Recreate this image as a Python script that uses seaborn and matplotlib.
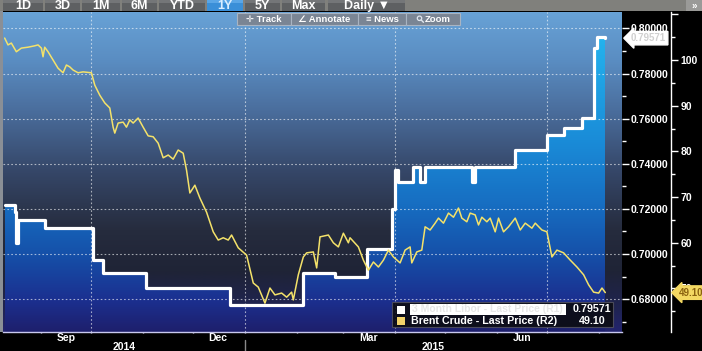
import numpy as np
import pandas as pd
import matplotlib
matplotlib.use("Agg")
import matplotlib.pyplot as plt
import matplotlib.dates as mdates
import matplotlib.transforms as mtransforms
from matplotlib.colors import LinearSegmentedColormap
from matplotlib.patches import Rectangle, Circle
from matplotlib.ticker import FormatStrFormatter, NullFormatter, FixedLocator
import seaborn as sns

# ---------------- data ----------------
white_name = "3 Month Libor - Last Price (R1)"
white_dates = ["2014-08-10", "2014-08-16", "2014-08-17", "2014-08-18", "2014-09-03",
               "2014-10-02", "2014-10-08", "2014-11-03", "2014-12-23", "2015-02-05",
               "2015-02-24", "2015-03-15", "2015-03-30", "2015-04-01", "2015-04-03",
               "2015-04-12", "2015-04-16", "2015-04-19", "2015-05-17", "2015-05-19",
               "2015-06-12", "2015-07-01", "2015-07-11", "2015-07-22", "2015-07-29",
               "2015-07-31", "2015-08-05"]
white_values = [0.7217, 0.7186, 0.7048, 0.7150, 0.7115,
                0.6973, 0.6915, 0.6849, 0.6773, 0.6915,
                0.6898, 0.7022, 0.7200, 0.7372, 0.7319,
                0.7386, 0.7319, 0.7386, 0.7319, 0.7386,
                0.7461, 0.7528, 0.7559, 0.7603, 0.7913,
                0.7962, 0.79571]

brent_name = "Brent Crude - Last Price (R2)"
brent_dates = [
    "2014-08-10", "2014-08-12", "2014-08-14", "2014-08-17", "2014-08-20", "2014-08-24", "2014-08-28", "2014-08-30",
    "2014-09-01", "2014-09-02", "2014-09-03", "2014-09-05", "2014-09-08", "2014-09-11", "2014-09-14", "2014-09-16",
    "2014-09-18", "2014-09-20", "2014-09-23", "2014-09-26",
    "2014-10-01", "2014-10-03", "2014-10-06", "2014-10-09", "2014-10-12", "2014-10-14", "2014-10-15", "2014-10-17",
    "2014-10-20", "2014-10-22", "2014-10-24", "2014-10-26", "2014-10-29",
    "2014-11-01", "2014-11-04", "2014-11-07", "2014-11-10", "2014-11-13", "2014-11-16", "2014-11-19", "2014-11-22",
    "2014-11-25", "2014-11-27", "2014-11-29",
    "2014-12-02", "2014-12-05", "2014-12-09", "2014-12-13", "2014-12-16", "2014-12-19", "2014-12-22", "2014-12-24",
    "2014-12-28",
    "2015-01-02", "2015-01-06", "2015-01-09", "2015-01-13", "2015-01-16", "2015-01-19", "2015-01-23", "2015-01-26",
    "2015-01-29", "2015-01-30",
    "2015-02-02", "2015-02-05", "2015-02-07", "2015-02-11", "2015-02-13", "2015-02-15", "2015-02-20", "2015-02-23",
    "2015-02-26",
    "2015-03-01", "2015-03-04", "2015-03-05", "2015-03-10", "2015-03-13", "2015-03-16", "2015-03-19", "2015-03-22",
    "2015-03-25", "2015-03-28", "2015-03-31",
    "2015-04-04", "2015-04-07", "2015-04-10", "2015-04-11", "2015-04-14", "2015-04-17", "2015-04-19", "2015-04-22",
    "2015-04-25", "2015-04-27", "2015-04-30",
    "2015-05-03", "2015-05-06", "2015-05-09", "2015-05-11", "2015-05-14", "2015-05-16", "2015-05-19", "2015-05-21",
    "2015-05-23", "2015-05-26", "2015-05-28", "2015-05-31",
    "2015-06-02", "2015-06-05", "2015-06-08", "2015-06-12", "2015-06-15", "2015-06-18", "2015-06-22", "2015-06-24",
    "2015-06-28",
    "2015-07-01", "2015-07-04", "2015-07-07", "2015-07-11", "2015-07-15", "2015-07-19", "2015-07-23", "2015-07-26",
    "2015-07-29",
    "2015-08-01", "2015-08-03", "2015-08-05"]
brent_values = [
    104.8, 103.3, 103.7, 101.8, 102.6, 102.8, 103.1, 103.3,
    102.6, 100.7, 102.8, 101.8, 100.0, 98.2, 97.2, 98.9, 98.5, 97.8, 97.2, 97.4,
    97.2, 94.5, 92.3, 90.6, 89.5, 85.3, 84.0, 86.2, 86.4, 85.3, 86.9, 86.2, 87.3,
    85.3, 83.4, 83.2, 81.8, 78.6, 79.2, 78.3, 80.3, 79.6, 75.9, 70.9,
    72.6, 69.8, 66.7, 62.4, 60.6, 61.1, 60.6, 61.7, 58.9,
    57.3, 51.2, 50.3, 46.8, 50.1, 48.6, 49.0, 48.1, 49.2, 47.5,
    53.0, 56.9, 57.8, 58.0, 54.5, 61.3, 61.7, 60.0, 59.1,
    62.1, 60.0, 61.1, 59.1, 56.2, 54.0, 55.8, 54.7, 56.2, 58.4, 56.9,
    55.6, 58.4, 59.1, 55.6, 58.0, 58.4, 63.5, 62.8, 64.3, 65.4, 64.3,
    66.5, 65.6, 67.6, 65.4, 64.6, 66.5, 66.1, 63.9, 65.6, 64.6, 65.4, 62.4,
    65.4, 62.4, 63.5, 65.4, 62.8, 64.3, 63.2, 64.3, 62.8,
    62.4, 56.9, 58.4, 57.8, 56.2, 54.7, 53.0, 50.8, 49.2,
    49.0, 50.1, 49.1]

quarter_starts = ["2014-10-01", "2015-01-01", "2015-04-01", "2015-07-01"]
x_start, x_end = "2014-08-09", "2015-08-15"
left_lim = (0.6654, 0.8073)
right_lim = (40.48, 110.5)
left_major = [0.68, 0.70, 0.72, 0.74, 0.76, 0.78, 0.80]
left_minor = [0.67, 0.69, 0.71, 0.73, 0.75, 0.77, 0.79]
right_major = [50, 60, 70, 80, 90, 100, 110]
right_labels = ["50", "60", "70", "80", "90", "100", ""]
right_minor = [45, 55, 65, 75, 85, 95, 105]
tabs = ["1D", "3D", "1M", "6M", "YTD", "1Y", "5Y", "Max", "Daily \u25BC"]
tools = ["\u271B Track", "\u2220 Annotate", "\u2261 News", "Zoom"]

# ---------------- style ----------------
sns.set_theme(style="ticks")
plt.rcParams['font.family'] = ['Liberation Sans', 'DejaVu Sans']
plt.rcParams['font.weight'] = 'bold'

W, H = 702, 351
fig = plt.figure(figsize=(W / 100, H / 100), dpi=100, facecolor='black')
ax = fig.add_axes([3 / W, (H - 332) / H, 619 / W, 320 / H])

wdf = pd.DataFrame({"date": pd.to_datetime(white_dates), "value": white_values})
bdf = pd.DataFrame({"date": pd.to_datetime(brent_dates), "price": brent_values})

# white step line (left scale)
sns.lineplot(data=wdf, x="date", y="value", ax=ax, color="white", lw=2.3,
             drawstyle="steps-post", zorder=4)

grad = np.linspace(0, 1, 256).reshape(-1, 1)
bg_cmap = LinearSegmentedColormap.from_list("bg", [
    (0.0, "#23246e"), (0.07, "#1f2352"), (0.19, "#1f2436"), (0.32, "#262c3e"),
    (0.51, "#36486a"), (0.69, "#4a6d9c"), (0.85, "#5a8dc2"), (1.0, "#68a2d6")])
fill_cmap = LinearSegmentedColormap.from_list("fill", [
    (0.0, "#1e1f6c"), (0.1, "#1b3090"), (0.25, "#1552aa"), (0.4, "#176ec2"),
    (0.6, "#1a8cd8"), (0.9, "#23b0ec"), (1.0, "#2cc0f5")])

ax.imshow(grad, cmap=bg_cmap, origin="lower", extent=(0, 1, 0, 1),
          transform=ax.transAxes, aspect="auto", zorder=0, interpolation="bilinear")
poly = ax.fill_between(wdf["date"], wdf["value"], left_lim[0], step="post",
                       facecolor="none", edgecolor="none")
fim = ax.imshow(grad, cmap=fill_cmap, origin="lower", extent=(0, 1, 0, 1),
                transform=ax.transAxes, aspect="auto", zorder=1, interpolation="bilinear")
fim.set_clip_path(poly.get_paths()[0], transform=ax.transData)

# grid
for v in left_major:
    ax.axhline(v, color="white", alpha=0.6, lw=0.8, ls=(0, (1.5, 2)), zorder=2)
for q in quarter_starts:
    ax.axvline(pd.Timestamp(q), color="white", alpha=0.6, lw=0.8, ls=(0, (1.5, 2)), zorder=2)

ax.set_xlim(pd.Timestamp(x_start), pd.Timestamp(x_end))
ax.set_ylim(*left_lim)
ax.set_xlabel("")
ax.set_ylabel("")

ax.xaxis.set_major_locator(mdates.MonthLocator())
ax.xaxis.set_major_formatter(NullFormatter())
ax.xaxis.set_minor_locator(mdates.MonthLocator(bymonth=[3, 6, 9, 12], bymonthday=16))
ax.xaxis.set_minor_formatter(mdates.DateFormatter("%b"))
ax.tick_params(axis="x", which="major", colors="#d8d8f0", length=2, width=1, direction="inout")
ax.tick_params(axis="x", which="minor", length=0, labelcolor="white", labelsize=7.5, pad=1)

for s in ["left", "right", "top"]:
    ax.spines[s].set_visible(False)
ax.spines["bottom"].set_color("#c8c8ee")
ax.spines["bottom"].set_linewidth(1)

# brent line (second right scale)
ax2 = ax.twinx()
sns.lineplot(data=bdf, x="date", y="price", ax=ax2, color="#f4e26a", lw=1.1, zorder=5)
ax2.set_ylim(*right_lim)
ax2.set_xlim(pd.Timestamp(x_start), pd.Timestamp(x_end))
ax2.set_xlabel("")
ax2.set_ylabel("")
ax2.xaxis.set_visible(False)
ax2.yaxis.set_major_locator(FixedLocator(right_major))
ax2.yaxis.set_minor_locator(FixedLocator(right_minor))
ax2.set_yticklabels(right_labels)
ax2.tick_params(axis="y", which="both", left=False, labelleft=False, right=True, labelright=True)
ax2.tick_params(axis="y", which="major", colors="white", labelcolor="white",
                length=5, width=1, pad=2, labelsize=7.5, direction="out")
ax2.tick_params(axis="y", which="minor", colors="white", length=3, width=1, direction="out")
for s in ["left", "top", "bottom"]:
    ax2.spines[s].set_visible(False)
ax2.spines["right"].set_position(("outward", 49 * 0.72))
ax2.spines["right"].set_color("white")
ax2.spines["right"].set_linewidth(1)

# left-series scale: ticks on the right side of the plot (set after twinx)
ax.yaxis.set_major_locator(FixedLocator(left_major))
ax.yaxis.set_minor_locator(FixedLocator(left_minor))
ax.yaxis.set_major_formatter(FormatStrFormatter("%.5f"))
ax.yaxis.set_ticks_position("right")
ax.yaxis.set_label_position("right")
ax.tick_params(axis="y", which="both", left=False, labelleft=False, right=True, labelright=True)
ax.tick_params(axis="y", which="major", colors="white", labelcolor="white",
               length=5, width=1, pad=1, labelsize=7.5, direction="out")
ax.tick_params(axis="y", which="minor", colors="white", length=3, width=1, direction="out")

# value tags on the scales
ax.annotate(f"{white_values[-1]:.5f}", xy=(1, white_values[-1]),
            xycoords=ax.get_yaxis_transform(), xytext=(9, 0), textcoords="offset pixels",
            ha="left", va="center", fontsize=7, color="#d0d0d0",
            bbox=dict(boxstyle="larrow,pad=0.18", fc="white", ec="white"),
            annotation_clip=False, zorder=10)
ax2.annotate(f"{brent_values[-1]:.2f}", xy=(1, brent_values[-1]),
             xycoords=ax2.get_yaxis_transform(), xytext=(57, 0), textcoords="offset pixels",
             ha="left", va="center", fontsize=7, color="#8a6210",
             bbox=dict(boxstyle="larrow,pad=0.18", fc="#f3d862", ec="#f3d862"),
             annotation_clip=False, zorder=10)

# year labels and separator
blend = mtransforms.blended_transform_factory(ax.transData, ax.transAxes)
x0n = mdates.date2num(pd.Timestamp(x_start))
x1n = mdates.date2num(pd.Timestamp(x_end))
yb = mdates.date2num(pd.Timestamp("2015-01-01"))
ax.text((x0n + yb) / 2, -0.047, "2014", transform=blend, ha="center", va="center",
        color="white", fontsize=7.5, fontweight="bold")
ax.text((yb + x1n) / 2, -0.047, "2015", transform=blend, ha="center", va="center",
        color="white", fontsize=7.5, fontweight="bold")
ax.plot([yb, yb], [-0.025, -0.065], transform=blend, color="#8a8a8a", lw=1, clip_on=False)

# ---------------- overlay (toolbar, legend) in pixel coords ----------------
ov = fig.add_axes([0, 0, 1, 1], zorder=20)
ov.set_xlim(0, W)
ov.set_ylim(H, 0)
ov.axis("off")
ov.patch.set_visible(False)

ov.add_patch(Rectangle((0, 0), W, 11, color="#80807c", lw=0))
ov.add_patch(Rectangle((686, 0), 16, 11, color="#9a9a98", lw=0))
ov.text(694, 5.5, "\u00bb", color="white", fontsize=7, ha="center", va="center")
ov.add_patch(Rectangle((0, 11), 3, 321, color="#8a8f96", lw=0))
tab_edges = [(3, 43), (45, 80), (82, 120), (122, 157), (159, 205), (207, 243),
             (245, 280), (282, 325), (328, 405)]
for lbl, (a, b) in zip(tabs, tab_edges):
    active = lbl == "1Y"
    ov.add_patch(Rectangle((a, 0), b - a, 11, color="#3a8fd8" if active else "#5e6062", lw=0))
    ov.add_patch(Rectangle((a, 0), b - a, 3, color="#5aa6e6" if active else "#747678", lw=0))
    ov.text((a + b) / 2, 6, lbl, color="#dbeeff" if active else "white", fontsize=9,
            ha="center", va="center", fontweight="bold")

tool_edges = [(237, 291), (291, 358), (358, 406), (406, 460)]
for lbl, (a, b) in zip(tools, tool_edges):
    ov.add_patch(Rectangle((a, 13), b - a, 12, fc="#7a8594", ec="#a9b4c2", lw=0.8))
    cx = (a + b) / 2 + (5 if lbl == "Zoom" else 0)
    ov.text(cx, 19.2, lbl, color="white", fontsize=6.8, ha="center", va="center",
            fontweight="bold")
# magnifier glyph for the Zoom button (drawn as a shape)
ov.add_patch(Circle((419.5, 18.3), 2.2, fc="none", ec="#dfe6ee", lw=0.9))
ov.plot([421.2, 423.5], [20.0, 22.3], color="#dfe6ee", lw=1.0)

# legend box
ov.add_patch(Rectangle((392, 302), 221, 25, fc="#0c0c12", ec="#50505e", lw=0.8, alpha=0.9))
ov.add_patch(Rectangle((397, 305.5), 8, 8, fc="white", ec="none"))
ov.add_patch(Rectangle((410, 304), 156, 11, fc="white", ec="none"))
ov.text(412, 309.5, white_name, color="#e6e6e6", fontsize=7.5, ha="left", va="center")
ov.text(611, 309.5, f"{white_values[-1]:.5f}", color="white", fontsize=7.7, ha="right", va="center")
ov.add_patch(Rectangle((397, 316.5), 8, 8, fc="#f2d36a", ec="none"))
ov.text(411, 320.5, brent_name, color="white", fontsize=7.7, ha="left", va="center")
ov.text(606, 320.5, f"{brent_values[-1]:.2f}", color="white", fontsize=7.7, ha="right", va="center")

fig.savefig("out.png", dpi=100, facecolor="black")
